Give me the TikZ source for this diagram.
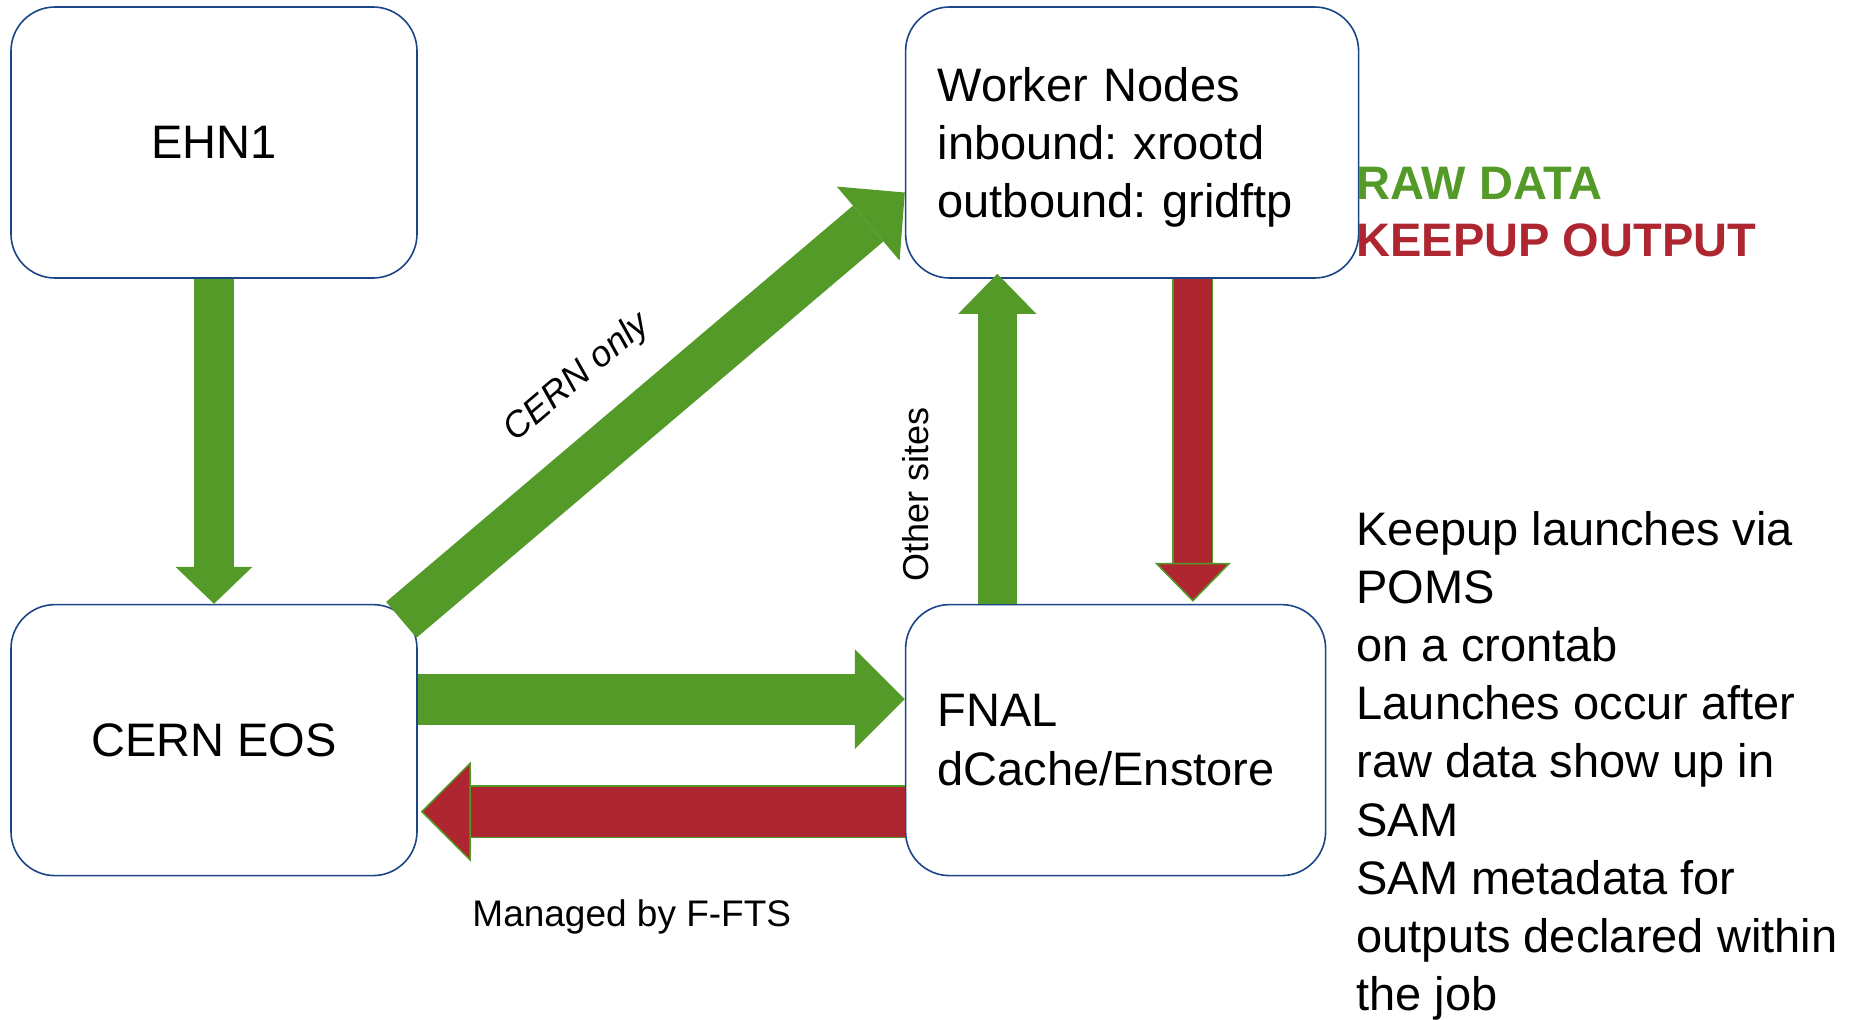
\documentclass[tikz,border=0pt]{standalone}
\usepackage{fontspec}
\setmainfont{Liberation Sans}
\usepackage{xcolor}
\usepackage{tikz}
\usetikzlibrary{arrows.meta, positioning, calc}
\frenchspacing
\definecolor{rawgreen}{RGB}{84,154,41}
\definecolor{keepred}{RGB}{174,39,48}
\definecolor{boxblue}{RGB}{28,69,135}
\newcommand{\boxfont}{\fontsize{47}{58.2}\selectfont}
\tikzset{
    box/.style={rectangle, rounded corners=44pt, draw=boxblue, line width=1.6pt, fill=white, minimum width=406pt, minimum height=271pt, text centered, font=\boxfont},
    listbox/.style={box, align=left, inner xsep=32pt},
    rawflow/.style n args={3}{draw=rawgreen, line width=#1, -{Triangle[width=#2, length=#3, line width=0pt]}},
    keepflow/.style n args={3}{draw=keepred, line width=#1, -{Triangle[width=#2, length=#3, line width=1.5pt, color=rawgreen, fill=keepred]}, preaction={draw=rawgreen, -, line width=#1+3pt, shorten >=30pt}}
}

\begin{document}
\begin{tikzpicture}[
    x=1pt, y=-1pt,
    note/.style={inner sep=0pt, align=left, font=\boxfont},
    sidenote/.style={inner sep=0pt, font=\fontsize{36}{44}\selectfont},
    legend/.style={inner sep=0pt, anchor=base west, font=\boxfont\bfseries}
]
    \useasboundingbox (0,0) rectangle (1858,1020);

    % Sites and storage
    \node[box] (ehn) at (214,142.5) {EHN1};
    \node[box, below=325pt of ehn] (eos) {CERN EOS};
    \node[listbox, text width=389pt, right=487pt of ehn] (worker) {\rule{0pt}{44pt}Worker Nodes\\inbound: xrootd\\outbound: gridftp};
    \node[listbox, text width=356pt, below=325pt of worker.south west, anchor=north west] (fnal) {FNAL\\dCache/Enstore};

    % Legend
    \node[legend, text=rawgreen] (raw) at ($(worker.east)+(-3,56.5)$) {RAW DATA};
    \node[legend, text=keepred] (keep) at ($(worker.east)+(-3,113.5)$) {KEEPUP OUTPUT};

    % Notes
    \node[note, anchor=north west] (cron) at ($(fnal.north east)+(30,-93)$) {Keepup launches via\\POMS\\on a crontab\\Launches occur after\\raw data show up in\\SAM\\SAM metadata for\\outputs declared within\\the job};
    \node[sidenote, rotate=90, anchor=south] (other) at ($(fnal.north west)+(24,-109)$) {Other sites};
    \node[sidenote, anchor=base, font=\fontsize{37}{44}\selectfont] (fts) at ($(eos.south east)+(214,50)$) {Managed by F-FTS};

    % Connections
    \draw[rawflow={40pt}{77pt}{37pt}] (ehn) -- (eos);
    \draw[rawflow={47pt}{97pt}{48pt}] ($(eos.north east)+(-16.5,16)$) -- node[pos=0.44, sloped, above=30pt, inner sep=0pt, font=\fontsize{36}{44}\selectfont\itshape] {CERN only} ($(worker.west)+(0,50)$);
    \draw[rawflow={51pt}{100pt}{50pt}] ($(eos.east)+(0,-41)$) -- ($(eos.east -| fnal.west)+(0,-41)$);
    \draw[keepflow={50pt}{100pt}{50pt}] ($(eos.east -| fnal.west)+(0,71.5)$) -- ($(eos.east)+(3,71.5)$);
    \draw[rawflow={39pt}{78pt}{40pt}] ($(fnal.north west)+(92.5,0)$) -- ($(worker.south west)+(92.5,-5)$);
    \draw[keepflow={38pt}{76pt}{39pt}] ($(worker.south west)+(288,0)$) -- ($(fnal.north west)+(288,-2)$);
\end{tikzpicture}
\end{document}
